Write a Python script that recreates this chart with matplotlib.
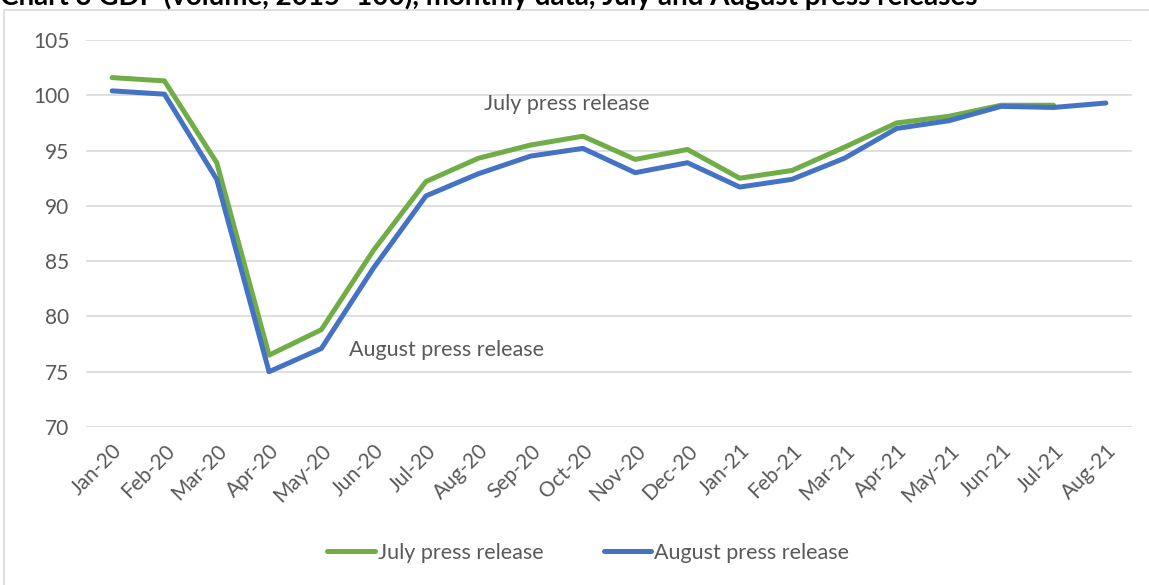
import matplotlib.pyplot as plt
from matplotlib.patches import Rectangle

months = ['Jan-20', 'Feb-20', 'Mar-20', 'Apr-20', 'May-20', 'Jun-20', 'Jul-20',
          'Aug-20', 'Sep-20', 'Oct-20', 'Nov-20', 'Dec-20', 'Jan-21', 'Feb-21',
          'Mar-21', 'Apr-21', 'May-21', 'Jun-21', 'Jul-21', 'Aug-21']

# July press release (ends Jul-21)
july = [101.6, 101.3, 93.9, 76.5, 78.8, 86.0, 92.2, 94.3, 95.5, 96.3,
        94.2, 95.1, 92.5, 93.2, 95.3, 97.5, 98.1, 99.1, 99.1]
# August press release
august = [100.4, 100.1, 92.4, 75.0, 77.1, 84.4, 90.9, 92.9, 94.5, 95.2,
          93.0, 93.9, 91.7, 92.4, 94.3, 97.0, 97.7, 99.0, 98.9, 99.3]

green = '#70ad47'
blue = '#4472c4'
txt = '#595959'
plt.rcParams['font.family'] = ['Lato', 'DejaVu Sans']

fig = plt.figure(figsize=(11.49, 5.85), dpi=100)
ax = fig.add_axes([86 / 1149, 1 - 427 / 585, 1046 / 1149, 387 / 585])

x = list(range(len(months)))
ax.plot(x[:len(july)], july, color=green, lw=3.6, solid_capstyle='round',
        label='July press release', zorder=3)
ax.plot(x, august, color=blue, lw=3.6, solid_capstyle='round',
        label='August press release', zorder=3)

ax.set_xlim(-0.5, len(months) - 0.5)
ax.set_ylim(70, 105)
ax.set_yticks(range(70, 106, 5))
ax.grid(axis='y', color='#d9d9d9', lw=1.2)
ax.set_axisbelow(True)
for s in ax.spines.values():
    s.set_visible(False)
ax.tick_params(length=0, labelsize=15, labelcolor=txt)
ax.tick_params(axis='y', pad=12)
ax.set_xticks(x)
ax.set_xticklabels(months, rotation=45, ha='right', rotation_mode='anchor')
ax.tick_params(axis='x', pad=10)

ax.text(8.7, 99.2, 'July press release', fontsize=15.5, color=txt, ha='center', va='center')
ax.text(6.4, 77.0, 'August press release', fontsize=15.5, color=txt, ha='center', va='center')

fig.legend(loc='center', bbox_to_anchor=(0.512, 1 - 553 / 585), ncol=2, frameon=False,
           fontsize=15.5, labelcolor=txt, handlelength=2.2, handletextpad=0.15,
           columnspacing=2.8)

fig.patches.append(Rectangle((4 / 1149, -0.01), 1.0, 1 - 10 / 585 + 0.01,
                             transform=fig.transFigure, fill=False,
                             edgecolor='#d9d9d9', lw=1.2))

fig.text(0.0, 1 - 5 / 585, 'Chart 3 GDP (volume, 2015=100), monthly data, July and August press releases',
         fontsize=20, fontweight='bold', color='black', ha='left', va='baseline')

fig.savefig('out.png', dpi=100)
